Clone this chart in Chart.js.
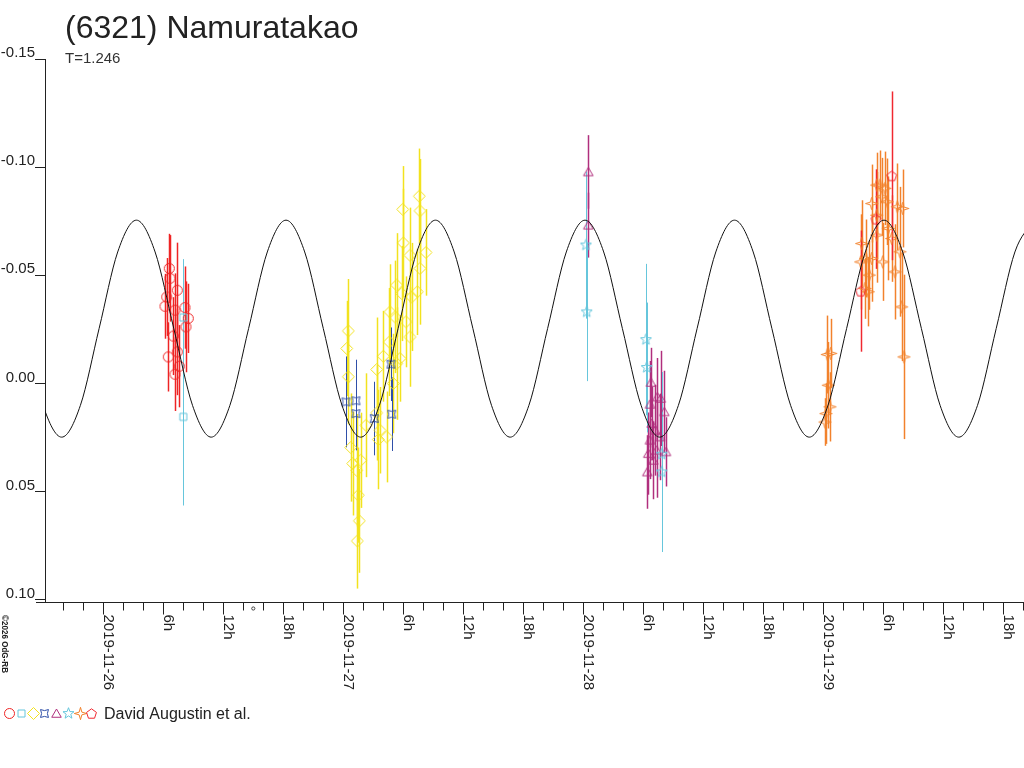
<!DOCTYPE html>
<html>
<head>
<meta charset="utf-8">
<title>(6321) Namuratakao</title>
<script src="https://cdn.jsdelivr.net/npm/chart.js@4.4.1/dist/chart.umd.min.js"></script>
<style>
  html, body { margin: 0; padding: 0; background: #fff; }
  canvas { display: block; }
</style>
</head>
<body>
<canvas id="lightcurve" width="1024" height="768"></canvas>
<script>
// times are hours since 2019-11-26 00:00 UT, values are magnitude offsets
const observer = 'David Augustin et al.';
const yTicks = [-0.15, -0.10, -0.05, 0.00, 0.05, 0.10];

const curveHours = [-7.90, -6.03, -4.16, -2.29, -0.42, 1.44, 3.31, 5.18, 7.05, 8.92, 10.79, 12.66, 14.53, 16.40,
  18.27, 20.14, 22.00, 23.87, 25.74, 27.61, 29.48, 31.35, 33.22, 35.09, 36.96, 38.82, 40.69, 42.56, 44.43,
  46.30, 48.17, 50.04, 51.91, 53.78, 55.64, 57.51, 59.38, 61.25, 63.12, 64.99, 66.86, 68.73, 70.60, 72.47,
  74.33, 76.20, 78.07, 79.94, 81.81, 83.68, 85.55, 87.42, 89.29, 91.16, 93.03];
const curveMags = [-0.0254, 0.0101, 0.0248, 0.0101, -0.0254, -0.0608, -0.0755, -0.0608,
  -0.0254, 0.0101, 0.0248, 0.0101, -0.0254, -0.0608, -0.0755, -0.0608,
  -0.0254, 0.0101, 0.0248, 0.0101, -0.0254, -0.0608, -0.0755, -0.0608,
  -0.0254, 0.0101, 0.0248, 0.0101, -0.0254, -0.0608, -0.0755, -0.0608,
  -0.0254, 0.0101, 0.0248, 0.0101, -0.0254, -0.0608, -0.0755, -0.0608,
  -0.0254, 0.0101, 0.0248, 0.0101, -0.0254, -0.0608, -0.0755, -0.0608,
  -0.0254, 0.0101, 0.0248, 0.0101, -0.0254, -0.0608, -0.0755];

const redHours = [6.60, 6.67, 6.34, 6.17, 7.40, 7.17, 8.17, 8.50, 8.27, 7.00, 7.40, 6.50, 7.60, 7.17];
const redMags = [-0.0532, -0.0486, -0.0400, -0.0357, -0.0431, -0.0339, -0.0351, -0.0301, -0.0262, -0.0219,
  -0.0146, -0.0123, -0.0080, -0.0043];
const redErrs = [0.016, 0.020, 0.018, 0.015, 0.022, 0.017, 0.019, 0.016, 0.021, 0.018, 0.020, 0.016, 0.019, 0.017];

const squareHours = [8.00, 8.00];
const squareMags = [-0.0305, 0.0154];
const squareErrs = [0.027, 0.041];

const yellowHours = [31.60, 29.94, 31.67, 30.00, 32.27, 30.67, 31.67, 29.34, 29.84, 31.40, 30.84, 28.67, 29.17,
  30.27, 24.50, 30.67, 28.60, 24.34, 28.00, 29.67, 27.34, 29.34, 24.50, 29.00, 27.34, 26.27, 27.67, 28.34,
  27.50, 24.74, 25.74, 24.94, 25.34, 25.50, 25.60, 25.40];
const yellowMags = [-0.0866, -0.0805, -0.0798, -0.0650, -0.0606, -0.0593, -0.0532, -0.0455, -0.0416, -0.0424,
  -0.0400, -0.0331, -0.0308, -0.0285, -0.0243, -0.0215, -0.0192, -0.0162, -0.0126, -0.0116, -0.0065, -0.0092,
  -0.0031, 0.0000, 0.0136, 0.0193, 0.0216, 0.0247, 0.0259, 0.0296, 0.0355, 0.0370, 0.0401, 0.0516, 0.0635, 0.0728];
const yellowErrs = [0.022, 0.020, 0.024, 0.025, 0.020, 0.022, 0.026, 0.024, 0.022, 0.020, 0.025, 0.022, 0.026,
  0.021, 0.024, 0.023, 0.025, 0.022, 0.021, 0.020, 0.024, 0.026, 0.022, 0.023, 0.022, 0.024, 0.020, 0.021,
  0.023, 0.025, 0.022, 0.024, 0.026, 0.022, 0.024, 0.022];

const blueHours = [28.77, 24.27, 25.27, 25.27, 27.10, 28.84];
const blueMags = [-0.0089, 0.0085, 0.0080, 0.0139, 0.0162, 0.0142];
const blueErrs = [0.017, 0.021, 0.019, 0.017, 0.017, 0.017];

const purpleHours = [48.50, 48.50, 54.77, 54.67, 55.40, 55.74, 56.10, 54.84, 55.17, 54.67, 55.67, 56.27, 54.50,
  54.40, 55.34, 55.00];
const purpleMags = [-0.0978, -0.0732, -0.0005, 0.0096, 0.0062, 0.0069, 0.0131, 0.0185, 0.0216, 0.0262, 0.0247,
  0.0316, 0.0324, 0.0409, 0.0308, 0.0355];
const purpleErrs = [0.017, 0.015, 0.016, 0.020, 0.018, 0.022, 0.019, 0.017, 0.021, 0.018, 0.020, 0.016, 0.019,
  0.017, 0.022, 0.018];

const starHours = [48.27, 48.34, 54.27, 54.34, 55.84, 55.84];
const starMags = [-0.0640, -0.0331, -0.0203, -0.0074, 0.0327, 0.0409];
const starErrs = [0.034, 0.032, 0.035, 0.030, 0.038, 0.037];

const orangeHours = [72.40, 72.74, 72.50, 72.67, 72.27, 72.17, 75.84, 75.74, 76.27, 76.84, 76.60, 76.17, 76.50,
  76.84, 77.34, 77.84, 77.34, 77.67, 78.17, 78.40, 77.34, 77.94, 78.50, 78.84, 79.17, 79.40, 79.94, 79.67,
  79.84, 80.07];
const orangeMags = [-0.0134, -0.0139, 0.0008, 0.0108, 0.0139, 0.0178, -0.0647, -0.0562, -0.0578, -0.0578,
  -0.0501, -0.0439, -0.0424, -0.0832, -0.0778, -0.0863, -0.0917, -0.0917, -0.0902, -0.0840, -0.0686, -0.0562,
  -0.0717, -0.0670, -0.0516, -0.0817, -0.0809, -0.0609, -0.0354, -0.0123];
const orangeErrs = [0.018, 0.016, 0.020, 0.016, 0.014, 0.011, 0.020, 0.022, 0.018, 0.020, 0.016, 0.014, 0.016,
  0.018, 0.020, 0.018, 0.015, 0.016, 0.017, 0.020, 0.022, 0.018, 0.024, 0.020, 0.022, 0.020, 0.018, 0.030,
  0.025, 0.038];

const pentHours = [78.84, 77.27, 75.74];
const pentMags = [-0.0960, -0.0760, -0.0427];
const pentErrs = [0.039, 0.023, 0.028];

const moonMarkHour = 15;

// ---- markers ----
function makeMarker(shape, color) {
  const c = document.createElement('canvas');
  c.width = 15; c.height = 15;
  const g = c.getContext('2d');
  const m = 7.5;
  g.strokeStyle = color;
  g.lineWidth = 1;
  g.beginPath();
  const star = (n, rOut, rIn, rot) => {
    for (let i = 0; i < 2 * n; i++) {
      const r = i % 2 ? rIn : rOut;
      const a = rot + i * Math.PI / n;
      const px = m + r * Math.cos(a), py = m + r * Math.sin(a);
      if (i === 0) g.moveTo(px, py); else g.lineTo(px, py);
    }
    g.closePath();
  };
  const poly = (n, r, rot, dy) => {
    for (let i = 0; i < n; i++) {
      const a = rot + i * 2 * Math.PI / n;
      const px = m + r * Math.cos(a), py = m + dy + r * Math.sin(a);
      if (i === 0) g.moveTo(px, py); else g.lineTo(px, py);
    }
    g.closePath();
  };
  if (shape === 'circle') g.arc(m, m, 5, 0, Math.PI * 2);
  else if (shape === 'square') g.rect(m - 3.5, m - 3.5, 7, 7);
  else if (shape === 'diamond') { g.moveTo(m, m - 6); g.lineTo(m + 6, m); g.lineTo(m, m + 6); g.lineTo(m - 6, m); g.closePath(); }
  else if (shape === 'box') star(4, 5.6, 2.9, -Math.PI * 3 / 4);
  else if (shape === 'triangle') poly(3, 5.5, -Math.PI / 2, 1);
  else if (shape === 'star5') star(5, 5.8, 2.4, -Math.PI / 2);
  else if (shape === 'star4') star(4, 6.2, 1.9, -Math.PI / 2);
  else if (shape === 'pentagon') poly(5, 5.2, -Math.PI / 2, 0.5);
  g.stroke();
  return c;
}

const colors = {
  red: '#ee2424', cyan: '#66c6dc', yellow: '#f2e21e', blue: '#2f4fa8',
  purple: '#b02f7d', orange: '#f2822c', pent: '#f02830'
};
const markers = {
  circle: makeMarker('circle', colors.red),
  square: makeMarker('square', colors.cyan),
  diamond: makeMarker('diamond', colors.yellow),
  box: makeMarker('box', colors.blue),
  triangle: makeMarker('triangle', colors.purple),
  star5: makeMarker('star5', colors.cyan),
  star4: makeMarker('star4', colors.orange),
  pentagon: makeMarker('pentagon', colors.pent)
};
const legendOrder = ['circle', 'square', 'diamond', 'box', 'triangle', 'star5', 'star4', 'pentagon'];

function series(hours, mags) {
  return hours.map((h, i) => ({ x: h, y: mags[i] }));
}
function points(label, hours, mags, errs, marker, errColor, errWidth) {
  return {
    label, data: series(hours, mags), showLine: false,
    pointStyle: markers[marker], pointRadius: 5, pointHoverRadius: 5,
    errors: errs, errColor, errWidth
  };
}

// ---- plugins ----
const errorBars = {
  id: 'errorBars',
  beforeDatasetsDraw(chart) {
    const { ctx, chartArea, scales: { x, y } } = chart;
    ctx.save();
    ctx.beginPath();
    ctx.rect(chartArea.left, chartArea.top, chartArea.right - chartArea.left, chartArea.bottom - chartArea.top);
    ctx.clip();
    const sets = chart.data.datasets;
    for (let i = sets.length - 1; i >= 0; i--) {
      const ds = sets[i];
      if (!ds.errors) continue;
      ctx.strokeStyle = ds.errColor;
      ctx.lineWidth = ds.errWidth;
      ds.data.forEach((p, j) => {
        const e = ds.errors[j];
        const px = Math.round(x.getPixelForValue(p.x)) + 0.5;
        ctx.beginPath();
        ctx.moveTo(px, y.getPixelForValue(p.y - e));
        ctx.lineTo(px, y.getPixelForValue(p.y + e));
        ctx.stroke();
      });
    }
    ctx.restore();
  }
};

function tickLabel(h) {
  const hh = ((h % 24) + 24) % 24;
  if (hh === 0) return '2019-11-' + (26 + Math.round(h / 24));
  return hh + 'h';
}

const decorations = {
  id: 'decorations',
  afterDraw(chart) {
    const { ctx, chartArea, scales: { x } } = chart;
    const axisY = Math.round(chartArea.bottom - 0.5) + 0.5;
    ctx.save();

    // title
    ctx.fillStyle = '#222';
    ctx.textAlign = 'left';
    ctx.textBaseline = 'alphabetic';
    ctx.font = '32px "Liberation Sans", Arial, sans-serif';
    ctx.fillText('(6321) Namuratakao', 65, 38);
    ctx.font = '15px "Liberation Sans", Arial, sans-serif';
    ctx.fillStyle = '#333';
    ctx.fillText('T=1.246', 65, 63);

    // x axis extension, ticks and rotated labels
    ctx.strokeStyle = '#222';
    ctx.lineWidth = 1;
    ctx.beginPath();
    ctx.moveTo(36, axisY);
    ctx.lineTo(chartArea.left, axisY);
    ctx.stroke();
    ctx.font = '15px "Liberation Sans", Arial, sans-serif';
    ctx.fillStyle = '#222';
    x.ticks.forEach(t => {
      const h = t.value;
      const labeled = (((h % 6) + 6) % 6) === 0;
      const px = Math.round(x.getPixelForValue(h)) + 0.5;
      ctx.beginPath();
      ctx.moveTo(px, axisY);
      ctx.lineTo(px, axisY + (labeled ? 12 : 8));
      ctx.stroke();
      if (labeled) {
        ctx.save();
        ctx.translate(px + 0.5, axisY + 12);
        ctx.rotate(Math.PI / 2);
        ctx.fillText(tickLabel(h), 0, 0);
        ctx.restore();
      }
    });

    // small mark under the axis
    ctx.strokeStyle = '#444';
    ctx.beginPath();
    ctx.arc(x.getPixelForValue(moonMarkHour), axisY + 6, 1.6, 0, Math.PI * 2);
    ctx.stroke();

    // credit line
    ctx.save();
    ctx.translate(2, 615);
    ctx.rotate(Math.PI / 2);
    ctx.font = 'bold 10px "Liberation Sans", Arial, sans-serif';
    const credit = '\u00a92026 OdG-RB';
    const w = ctx.measureText(credit).width;
    ctx.scale(58 / w, 0.85);
    ctx.fillStyle = '#222';
    ctx.fillText(credit, 0, 0);
    ctx.restore();

    // legend
    const lx = [9.3, 21.5, 33.3, 44.5, 56, 68.3, 80, 91.7];
    legendOrder.forEach((k, i) => {
      const img = markers[k];
      ctx.drawImage(img, Math.round(lx[i] - img.width / 2), Math.round(713.5 - img.height / 2));
    });
    ctx.font = '16px "Liberation Sans", Arial, sans-serif';
    ctx.fillStyle = '#222';
    ctx.fillText(observer, 104, 719);

    ctx.restore();
  }
};

// ---- chart ----
const ctx = document.getElementById('lightcurve').getContext('2d');
const lightcurve = new Chart(ctx, {
  type: 'scatter',
  data: {
    datasets: [
      {
        label: 'model', data: series(curveHours, curveMags), showLine: true,
        borderColor: '#111', borderWidth: 1, pointRadius: 0, pointHoverRadius: 0,
        cubicInterpolationMode: 'monotone', fill: false
      },
      points('pentagons', pentHours, pentMags, pentErrs, 'pentagon', colors.pent, 1.5),
      points('stars', starHours, starMags, starErrs, 'star5', colors.cyan, 1),
      points('squares', squareHours, squareMags, squareErrs, 'square', colors.cyan, 1),
      points('boxes', blueHours, blueMags, blueErrs, 'box', colors.blue, 1),
      points('circles', redHours, redMags, redErrs, 'circle', colors.red, 1.5),
      points('triangles', purpleHours, purpleMags, purpleErrs, 'triangle', colors.purple, 1.5),
      points('orange', orangeHours, orangeMags, orangeErrs, 'star4', colors.orange, 1.5),
      points('diamonds', yellowHours, yellowMags, yellowErrs, 'diamond', colors.yellow, 1.5)
    ]
  },
  options: {
    responsive: false,
    animation: false,
    devicePixelRatio: 1,
    layout: { autoPadding: false, padding: { top: 59, left: 0, right: 0, bottom: 0 } },
    plugins: {
      legend: { display: false },
      tooltip: { enabled: false },
      title: { display: false }
    },
    events: [],
    scales: {
      x: {
        type: 'linear',
        min: -5.83,
        max: 92.07,
        afterFit(scale) { scale.height = 166; scale.paddingLeft = 0; scale.paddingRight = 0; },
        border: { color: '#222', width: 1 },
        grid: { display: false },
        ticks: { stepSize: 2, includeBounds: false, display: false }
      },
      y: {
        type: 'linear',
        reverse: true,
        min: -0.15,
        max: 0.101,
        afterBuildTicks(scale) { scale.ticks = yTicks.map(v => ({ value: v })); },
        afterFit(scale) { scale.width = 45; },
        border: { color: '#222', width: 1 },
        grid: { drawOnChartArea: false, drawTicks: true, tickLength: 10, color: '#222' },
        ticks: {
          padding: 0,
          labelOffset: -6,
          color: '#222',
          font: { family: 'Liberation Sans', size: 15 },
          callback: v => (Math.abs(v) < 1e-9 ? 0 : v).toFixed(2)
        }
      }
    }
  },
  plugins: [errorBars, decorations]
});
</script>
</body>
</html>
